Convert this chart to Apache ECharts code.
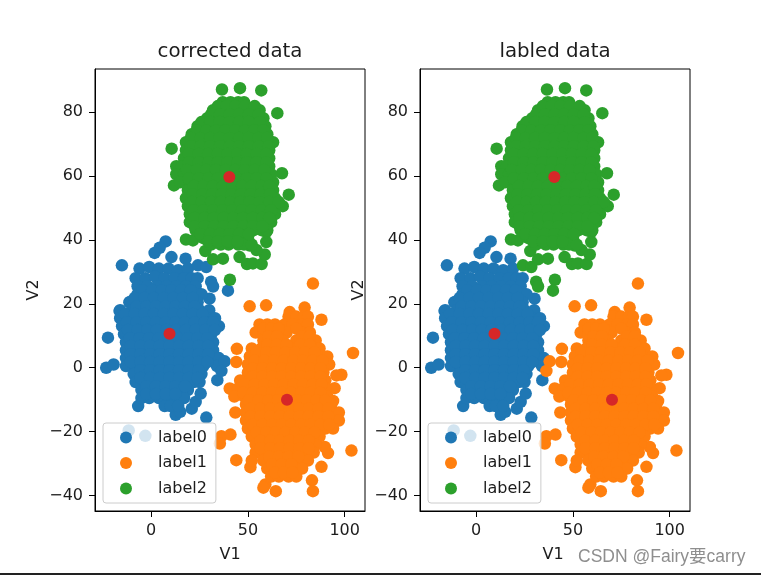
<!DOCTYPE html>
<html><head><meta charset="utf-8">
<style>html,body{margin:0;padding:0;background:#fff}#c{width:761px;height:575px}</style>
<script src="https://cdn.jsdelivr.net/npm/echarts@6/dist/echarts.min.js"></script></head>
<body><div id="c"></div>
<script>
const classNames = ['label0','label1','label2'];
const panelTitles = ['corrected data','labled data'];
const xTicks = [0,50,100];
const yTicks = [-40,-20,0,20,40,60,80];
const centers = [[9.5,10.6],[70.2,-10],[40.4,59.6]];

const blueShared = [
[7.5,39.5],[4.4,37.5],[1.8,35.9],[-15.1,32],[10.5,34.6],[17.8,34.1],
[-22.3,9.4],[-23.2,0],[-19.4,1],[-16.3,17.7],[-11.2,20.5],[30.2,21.6],[-6.7,-12],[12.7,-14.7],[15,-13.8],[21,-12.8],[23,-10.7],[25.6,-8.1],[28.5,-15.6],[34.2,-3.9],[-11.6,-19.6],[-3,-21.3],
[-6,31],[-1,31.5],[4,31],[9,31],[14,30.5],[19,31],
[-8,28],[-3,28],[2,28.5],[7,28],[12,28],[17,28],[21,28],[24,28],
[-7,25.5],[-2,25.5],[3,25.5],[8,25.5],[13,25.5],[18,25.5],[23,25.5],
[-7,23],[-2,23],[3,23],[8,23],[13,23],[18,23],[23,23],[26,23],
[-11,20.5],[-6,20.5],[-1,20.5],[4,20.5],[9,20.5],[14,20.5],[19,20.5],[24,20.5],
[-16,18],[-10,18],[-5,18],[0,18],[5,18],[10,18],[15,18],[20,18],[25,18],[30,18],
[-16,15.5],[-11,15.5],[-6,15.5],[-1,15.5],[4,15.5],[9,15.5],[14,15.5],[19,15.5],[24,15.5],[29,15.5],[33,15.5],
[-15,13],[-10,13],[-5,13],[0,13],[5,13],[10,13],[15,13],[20,13],[25,13],[30,13],[35,13],
[-14,10.5],[-9,10.5],[-4,10.5],[1,10.5],[6,10.5],[11,10.5],[16,10.5],[21,10.5],[26,10.5],[31,10.5],
[-13,8],[-8,8],[-3,8],[2,8],[7,8],[12,8],[17,8],[22,8],[27,8],[32,8],
[-13,5.5],[-8,5.5],[-3,5.5],[2,5.5],[7,5.5],[12,5.5],[17,5.5],[22,5.5],[27,5.5],[32,5.5],
[-13,3],[-9,3],[-4,3],[1,3],[6,3],[11,3],[16,3],[21,3],[26,3],[31,3],[35,3],
[-13,0.5],[-8,0.5],[-3,0.5],[2,0.5],[7,0.5],[12,0.5],[17,0.5],[22,0.5],[27,0.5],[34,0.5],
[-9,-2],[-4,-2],[1,-2],[6,-2],[11,-2],[16,-2],[21,-2],[26,-2],
[-8,-4.5],[-3,-4.5],[2,-4.5],[7,-4.5],[12,-4.5],[17,-4.5],[22,-4.5],[25,-4.5],
[-5,-7],[0,-7],[5,-7],[10,-7],[15,-7],[19,-7],
[-5,-9.5],[-1,-9.5],[4,-9.5],[9,-9.5],[14,-9.5],[17,-9.5],
[7,-12],[10,-12],[14,-12]
];
const blueCore = [
[-4.5,24.2],[0.5,24.2],[5.5,24.2],[10.5,24.2],[15.5,24.2],[20.5,24.2],
[-8.5,21.8],[-3.5,21.8],[1.5,21.8],[6.5,21.8],[11.5,21.8],[16.5,21.8],[21.5,21.8],
[-7.5,19.2],[-2.5,19.2],[2.5,19.2],[7.5,19.2],[12.5,19.2],[17.5,19.2],[22.5,19.2],
[-13.5,16.8],[-8.5,16.8],[-3.5,16.8],[1.5,16.8],[6.5,16.8],[11.5,16.8],[16.5,16.8],[21.5,16.8],[26.5,16.8],
[-12.5,14.2],[-7.5,14.2],[-2.5,14.2],[2.5,14.2],[7.5,14.2],[12.5,14.2],[17.5,14.2],[22.5,14.2],[27.5,14.2],[32,14.2],
[-12,11.8],[-7,11.8],[-2,11.8],[3,11.8],[8,11.8],[13,11.8],[18,11.8],[23,11.8],[28,11.8],[33,11.8],
[-11,9.2],[-6,9.2],[-1,9.2],[4,9.2],[9,9.2],[14,9.2],[19,9.2],[24,9.2],[29,9.2],
[-10.5,6.8],[-5.5,6.8],[-0.5,6.8],[4.5,6.8],[9.5,6.8],[14.5,6.8],[19.5,6.8],[24.5,6.8],[29.5,6.8],
[-10.5,4.2],[-5.5,4.2],[-0.5,4.2],[4.5,4.2],[9.5,4.2],[14.5,4.2],[19.5,4.2],[24.5,4.2],[29.5,4.2],
[-10.5,1.8],[-5.5,1.8],[-0.5,1.8],[4.5,1.8],[9.5,1.8],[14.5,1.8],[19.5,1.8],[24.5,1.8],[29,1.8],
[-5.5,-0.8],[-0.5,-0.8],[4.5,-0.8],[9.5,-0.8],[14.5,-0.8],[19.5,-0.8],[24.5,-0.8],
[-5.5,-3.2],[-0.5,-3.2],[4.5,-3.2],[9.5,-3.2],[14.5,-3.2],[19.5,-3.2],[24,-3.2],
[-2.5,-5.8],[2.5,-5.8],[7.5,-5.8],[12.5,-5.8],[17.5,-5.8],
[-2.5,-8.2],[2.5,-8.2],[7.5,-8.2],[12.5,-8.2]
];
const orangeShared = [
[50.9,19.2],[59.4,19.5],[83.6,26.3],[104.3,4.6],[88,15],[79.3,18.8],[71.6,17.4],[44.3,5.9],[44,1.8],[42.3,-7],[40.6,-6.5],[43.5,-14],[36.3,-21.4],[41,-20.9],[35.5,-23.7],[44,-28.9],[103.5,-25.9],[59,-36.5],[58,-37.5],[64.4,-38.6],[83.1,-35.2],[83.6,-38.6],[88,-31],[91.4,-26.7],[89.7,-24.8],[98.3,-2.2],[95.7,-2.4],[94.8,-6.4],[94,-10.4],[51.3,-31.1],
[71,16],[75,16],[79,16],[81,16],
[56,13.5],[60,13.5],[64,13.5],[69,13.5],[73,13.5],[78,13.5],[81,13.5],
[54,11],[58,11],[62,11],[66,11],[70,11],[78,11],[82,11],
[58,8.5],[63,8.5],[68,8.5],[75,8.5],[80,8.5],[85,8.5],
[52,6],[57,6],[62,6],[67,6],[72,6],[77,6],[82,6],[87,6],
[51,3.5],[56,3.5],[61,3.5],[66,3.5],[71,3.5],[76,3.5],[81,3.5],[86,3.5],[91,3.5],
[50,1],[55,1],[60,1],[65,1],[70,1],[75,1],[80,1],[85,1],[90,1],[92,1],
[50,-1.5],[55,-1.5],[60,-1.5],[65,-1.5],[70,-1.5],[75,-1.5],[80,-1.5],[85,-1.5],[89,-1.5],
[46,-4],[51,-4],[56,-4],[61,-4],[66,-4],[71,-4],[76,-4],[81,-4],[86,-4],[90,-4],
[45,-6.5],[50,-6.5],[55,-6.5],[60,-6.5],[65,-6.5],[70,-6.5],[75,-6.5],[80,-6.5],[85,-6.5],[90,-6.5],
[43,-9],[48,-9],[53,-9],[58,-9],[63,-9],[68,-9],[73,-9],[78,-9],[83,-9],[88,-9],[91,-9],
[49,-11.5],[54,-11.5],[59,-11.5],[64,-11.5],[69,-11.5],[74,-11.5],[79,-11.5],[84,-11.5],[89,-11.5],[93,-11.5],
[49,-14],[54,-14],[59,-14],[64,-14],[69,-14],[74,-14],[79,-14],[84,-14],[89,-14],[94,-14],[97,-14],
[49,-16.5],[54,-16.5],[59,-16.5],[64,-16.5],[69,-16.5],[74,-16.5],[79,-16.5],[84,-16.5],[89,-16.5],[94,-16.5],[97,-16.5],
[50,-19],[55,-19],[60,-19],[65,-19],[70,-19],[75,-19],[80,-19],[85,-19],[90,-19],[94,-19],
[52,-21.5],[57,-21.5],[62,-21.5],[67,-21.5],[72,-21.5],[77,-21.5],[82,-21.5],[87,-21.5],
[54,-24],[59,-24],[64,-24],[69,-24],[74,-24],[79,-24],[85,-24],
[54,-26.5],[59,-26.5],[64,-26.5],[69,-26.5],[74,-26.5],[79,-26.5],[84,-26.5],
[52,-29],[58,-29],[63,-29],[68,-29],[73,-29],[78,-29],[81,-29],
[60,-31.5],[65,-31.5],[70,-31.5],[75,-31.5],[78,-31.5],
[62,-34],[66,-34],[71,-34],[75,-34]
];
const orangeCore = [
[58,12.2],[62,12.2],[66,12.2],[75,12.2],
[60.5,9.8],[65,9.8],[78,9.8],[82,9.8],
[60,7.2],[65,7.2],[70,7.2],[77,7.2],[82,7.2],
[54.5,4.8],[59.5,4.8],[64.5,4.8],[69.5,4.8],[74.5,4.8],[79.5,4.8],[84.5,4.8],
[53.5,2.2],[58.5,2.2],[63.5,2.2],[68.5,2.2],[73.5,2.2],[78.5,2.2],[83.5,2.2],[88.5,2.2],
[52.5,-0.2],[57.5,-0.2],[62.5,-0.2],[67.5,-0.2],[72.5,-0.2],[77.5,-0.2],[82.5,-0.2],[87.5,-0.2],
[52.5,-2.8],[57.5,-2.8],[62.5,-2.8],[67.5,-2.8],[72.5,-2.8],[77.5,-2.8],[82.5,-2.8],[87.5,-2.8],
[48.5,-5.2],[53.5,-5.2],[58.5,-5.2],[63.5,-5.2],[68.5,-5.2],[73.5,-5.2],[78.5,-5.2],[83.5,-5.2],[88,-5.2],
[47.5,-7.8],[52.5,-7.8],[57.5,-7.8],[62.5,-7.8],[67.5,-7.8],[72.5,-7.8],[77.5,-7.8],[82.5,-7.8],[87.5,-7.8],
[50.5,-10.2],[55.5,-10.2],[60.5,-10.2],[65.5,-10.2],[70.5,-10.2],[75.5,-10.2],[80.5,-10.2],[85.5,-10.2],[90,-10.2],
[51.5,-12.8],[56.5,-12.8],[61.5,-12.8],[66.5,-12.8],[71.5,-12.8],[76.5,-12.8],[81.5,-12.8],[86.5,-12.8],[91.5,-12.8],
[51.5,-15.2],[56.5,-15.2],[61.5,-15.2],[66.5,-15.2],[71.5,-15.2],[76.5,-15.2],[81.5,-15.2],[86.5,-15.2],[91.5,-15.2],
[52.5,-17.8],[57.5,-17.8],[62.5,-17.8],[67.5,-17.8],[72.5,-17.8],[77.5,-17.8],[82.5,-17.8],[87.5,-17.8],[92,-17.8],
[54.5,-20.2],[59.5,-20.2],[64.5,-20.2],[69.5,-20.2],[74.5,-20.2],[79.5,-20.2],[84.5,-20.2],
[56.5,-22.8],[61.5,-22.8],[66.5,-22.8],[71.5,-22.8],[76.5,-22.8],[81.5,-22.8],
[56.5,-25.2],[61.5,-25.2],[66.5,-25.2],[71.5,-25.2],[76.5,-25.2],[81.5,-25.2],
[61,-27.8],[66,-27.8],[71,-27.8],[76,-27.8],
[62.5,-30.2],[67.5,-30.2],[72.5,-30.2],
[64,-32.8],[68.5,-32.8],[73,-32.8]
];
const greenShared = [
[36.6,87],[45.9,87.4],[56.9,86.7],[65.2,79.6],[10.6,68.5],[71.1,54.1],[67.6,60.8],[11.8,57],[40.7,27.5],[18,40.1],[21.6,39.8],[28,36.5],[32,33.9],[37.1,34.1],[45.7,34.6],[49.5,32.4],[52.6,32.6],[57.1,32.4],[58.7,35.4],[54.4,36.8],[59.5,39.3],[59.5,42.4],[51,38.2],
[37,83],[41,83],[45,83],[48,83],
[32,80.5],[36,80.5],[41,80.5],[46,80.5],[51,80.5],[56,80.5],
[29,78],[33,78],[38,78],[43,78],[48,78],[53,78],[58,78],
[24,75.5],[28,75.5],[33,75.5],[38,75.5],[43,75.5],[48,75.5],[53,75.5],[59,75.5],
[21,73],[26,73],[31,73],[36,73],[41,73],[46,73],[51,73],[56,73],[60,73],
[18,70.5],[23,70.5],[28,70.5],[33,70.5],[38,70.5],[43,70.5],[48,70.5],[53,70.5],[58,70.5],[63,70.5],
[18,68],[22,68],[27,68],[32,68],[37,68],[42,68],[47,68],[52,68],[57,68],[61,68],
[17,65.5],[22,65.5],[27,65.5],[32,65.5],[37,65.5],[42,65.5],[47,65.5],[52,65.5],[57,65.5],[61,65.5],
[13,63],[16,63],[21,63],[26,63],[31,63],[36,63],[41,63],[46,63],[51,63],[56,63],[61,63],
[13,60.5],[17,60.5],[22,60.5],[27,60.5],[32,60.5],[37,60.5],[42,60.5],[47,60.5],[52,60.5],[57,60.5],[62,60.5],
[15,58],[20,58],[25,58],[30,58],[35,58],[40,58],[45,58],[50,58],[55,58],[60,58],[63,58],
[19,55.5],[24,55.5],[29,55.5],[34,55.5],[39,55.5],[44,55.5],[49,55.5],[54,55.5],[59,55.5],[63,55.5],
[18,53],[23,53],[28,53],[33,53],[38,53],[43,53],[48,53],[53,53],[58,53],[64,53],
[19,50.5],[24,50.5],[29,50.5],[34,50.5],[39,50.5],[44,50.5],[49,50.5],[54,50.5],[59,50.5],[65,50.5],[68,50.5],
[20,48],[25,48],[30,48],[35,48],[40,48],[45,48],[50,48],[55,48],[60,48],[64,48],
[20,45.5],[25,45.5],[30,45.5],[35,45.5],[40,45.5],[45,45.5],[50,45.5],[55,45.5],[60,45.5],[62,45.5],
[23,43],[28,43],[33,43],[38,43],[43,43],[48,43],[53,43],[57,43],[60,43],
[27,40.5],[32,40.5],[37,40.5],[42,40.5],[47,40.5],[50,40.5],
[31,38.5],[36,38.5],[40,38.5],[45,38.5],[48,38.5],[52,38.5]
];
const greenCore = [
[34.5,81.8],[39,81.8],[43.5,81.8],[48.5,81.8],[53.5,81.8],
[31,79.2],[35.5,79.2],[40.5,79.2],[45.5,79.2],[50.5,79.2],[55.5,79.2],
[26,76.8],[30.5,76.8],[35.5,76.8],[40.5,76.8],[45.5,76.8],[50.5,76.8],[56,76.8],
[23.5,74.2],[28.5,74.2],[33.5,74.2],[38.5,74.2],[43.5,74.2],[48.5,74.2],[53.5,74.2],[58,74.2],
[20.5,71.8],[25.5,71.8],[30.5,71.8],[35.5,71.8],[40.5,71.8],[45.5,71.8],[50.5,71.8],[55.5,71.8],[60,71.8],
[20.5,69.2],[25.5,69.2],[30.5,69.2],[35.5,69.2],[40.5,69.2],[45.5,69.2],[50.5,69.2],[55.5,69.2],[60.5,69.2],
[19.5,66.8],[24.5,66.8],[29.5,66.8],[34.5,66.8],[39.5,66.8],[44.5,66.8],[49.5,66.8],[54.5,66.8],[59.5,66.8],
[19.5,64.2],[24.5,64.2],[29.5,64.2],[34.5,64.2],[39.5,64.2],[44.5,64.2],[49.5,64.2],[54.5,64.2],[59.5,64.2],
[18.5,61.8],[23.5,61.8],[28.5,61.8],[33.5,61.8],[38.5,61.8],[43.5,61.8],[48.5,61.8],[53.5,61.8],[58.5,61.8],
[19.5,59.2],[24.5,59.2],[29.5,59.2],[34.5,59.2],[39.5,59.2],[44.5,59.2],[49.5,59.2],[54.5,59.2],[59.5,59.2],
[22,56.8],[27,56.8],[32,56.8],[37,56.8],[42,56.8],[47,56.8],[52,56.8],[57,56.8],[61,56.8],
[21.5,54.2],[26.5,54.2],[31.5,54.2],[36.5,54.2],[41.5,54.2],[46.5,54.2],[51.5,54.2],[56.5,54.2],[61.5,54.2],
[21,51.8],[26,51.8],[31,51.8],[36,51.8],[41,51.8],[46,51.8],[51,51.8],[56,51.8],[61,51.8],[66,51.8],
[22,49.2],[27,49.2],[32,49.2],[37,49.2],[42,49.2],[47,49.2],[52,49.2],[57,49.2],[62,49.2],
[22.5,46.8],[27.5,46.8],[32.5,46.8],[37.5,46.8],[42.5,46.8],[47.5,46.8],[52.5,46.8],[57.5,46.8],[61,46.8],
[22.5,44.2],[27.5,44.2],[32.5,44.2],[37.5,44.2],[42.5,44.2],[47.5,44.2],[52.5,44.2],[57.5,44.2],
[25.5,41.8],[30.5,41.8],[35.5,41.8],[40.5,41.8],[45.5,41.8],[50.5,41.8],
[29.5,39.5],[34.5,39.5],[39.5,39.5],[44.5,39.5]
];
// points whose class differs between the two panels
const correctedBlueOnly = [[38,2],[36.3,-1],[39.7,24.1],[24.2,32],[28.5,31.5],[31,26.9],[32,25.4]];
const labeledOrangeOnly = [[38,2],[36.3,-1]];
const labeledGreenOnly = [[39.7,24.1],[24.2,32],[28.5,31.5],[31,26.9],[32,25.4]];

const COLORS = ['#1f77b4','#ff7f0e','#2ca02c'];
const RED = '#d62728';
const FONT = 'DejaVu Sans';
const INK = '#1c1c1c';
const grids = [{left:95,width:270},{left:420,width:270}];

const blueAll = blueShared.concat(blueCore), orangeAll = orangeShared.concat(orangeCore), greenAll = greenShared.concat(greenCore);
const panelData = [
  [blueAll.concat(correctedBlueOnly), orangeAll, greenAll],
  [blueAll, orangeAll.concat(labeledOrangeOnly), greenAll.concat(labeledGreenOnly)]
];
const series = [];
panelData.forEach((groups,p)=>{
  groups.forEach((d,i)=>series.push({type:'scatter',name:classNames[i],xAxisIndex:p,yAxisIndex:p,data:d,
    symbolSize:12.5,itemStyle:{color:COLORS[i],opacity:1},silent:true,animation:false}));
  series.push({type:'scatter',name:'center',xAxisIndex:p,yAxisIndex:p,data:centers,symbolSize:12,
    itemStyle:{color:RED,opacity:1},silent:true,animation:false,z:3});
});
const minus = v => String(v).replace('-','\u2212');
const axisBits = {
  axisLine:{show:true,onZero:false,lineStyle:{color:'#000',width:1}},
  splitLine:{show:false}
};
const option = {
  backgroundColor:'#fff',animation:false,
  title:panelTitles.map((t,i)=>({text:t,left:grids[i].left+130,textAlign:'center',top:37,
    textStyle:{fontFamily:FONT,fontSize:19.8,fontWeight:'normal',color:INK}})),
  grid:grids.map(g=>({left:g.left,width:g.width,top:69,height:442,show:true,borderColor:'#000',borderWidth:1,containLabel:false})),
  xAxis:grids.map((g,i)=>({type:'value',gridIndex:i,position:'bottom',min:-29,max:110.5,name:'V1',nameLocation:'middle',nameGap:36,
    nameTextStyle:{fontFamily:FONT,fontSize:16,color:INK,padding:i?[0,4,0,0]:0},...axisBits,
    axisTick:{length:6,customValues:xTicks,lineStyle:{color:'#000'}},
    axisLabel:{customValues:xTicks,fontFamily:FONT,fontSize:16,color:INK,margin:12,formatter:minus}})),
  yAxis:grids.map((g,i)=>({type:'value',gridIndex:i,position:'left',min:-44.8,max:93.4,name:'V2',nameLocation:'middle',nameGap:53,
    nameTextStyle:{fontFamily:FONT,fontSize:16,color:INK},...axisBits,
    axisTick:{length:6,customValues:yTicks,lineStyle:{color:'#000'}},
    axisLabel:{customValues:yTicks,fontFamily:FONT,fontSize:16,color:INK,margin:12,formatter:minus}})),
  legend:[103,428].map(l=>({left:l,top:423,orient:'vertical',data:classNames,icon:'circle',itemWidth:12,itemHeight:12,
    itemGap:9.5,padding:[6.5,9,6.5,17],backgroundColor:'rgba(255,255,255,0.8)',borderColor:'#ccc',borderWidth:1,borderRadius:3,
    selectedMode:false,textStyle:{fontFamily:FONT,fontSize:16,color:INK,lineHeight:16,padding:[0,0,0,21]}})),
  graphic:[
    {type:'text',left:578,top:548,z:100,style:{text:'CSDN @Fairy要carry',fill:'#8e8e8e',fontFamily:'Liberation Sans, Noto Sans CJK SC',fontSize:17.5}},
    {type:'rect',shape:{x:0,y:573,width:761,height:2},style:{fill:'#222'},z:100}
  ],
  series
};
echarts.init(document.getElementById('c'),null,{renderer:'canvas'}).setOption(option);
</script></body></html>
